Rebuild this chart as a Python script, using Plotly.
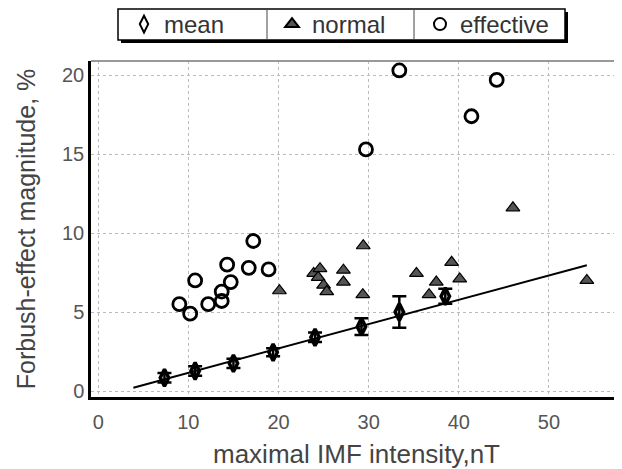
import plotly.graph_objects as go

# ---- data ----
mean_x = [7.35, 10.75, 15.0, 19.4, 24.05, 29.2, 33.4, 38.5]
mean_y = [0.84, 1.27, 1.75, 2.45, 3.4, 4.07, 5.0, 6.0]
mean_err = [0.3, 0.3, 0.3, 0.25, 0.3, 0.53, 1.0, 0.48]

normal_x = [20.1, 23.9, 24.6, 24.4, 25.0, 25.35, 27.2, 27.2, 29.4, 29.35,
            35.3, 37.5, 36.7, 39.2, 40.1, 46.0, 54.2]
normal_y = [6.35, 7.45, 7.75, 7.2, 6.7, 6.3, 7.65, 6.9, 9.2, 6.1,
            7.45, 6.9, 6.1, 8.15, 7.1, 11.6, 7.0]

eff_x = [9.0, 10.2, 10.75, 12.2, 13.7, 13.7, 14.7, 14.3, 16.7, 17.2, 18.9,
         29.7, 33.4, 41.4, 44.2]
eff_y = [5.5, 4.9, 7.0, 5.5, 5.7, 6.3, 6.9, 8.0, 7.8, 9.5, 7.7,
         15.3, 20.3, 17.4, 19.7]

fit_x = [3.9, 54.2]
fit_y = [0.21, 7.97]

x_ticks = [0, 10, 20, 30, 40, 50]
y_ticks = [0, 5, 10, 15, 20]

# ---- layout geometry (pixels) ----
# the page body has an 8px margin, so the figure fills the remaining area
OFF = 8
W, H = 622 - OFF, 469 - OFF
ML, MR, MT, MB = 91 - OFF, 0, 61 - OFF, 72
PW, PH = W - ML - MR, H - MT - MB


def px(xp):
    """reference-screen x pixel -> paper fraction"""
    return (xp - OFF - ML) / PW


def py(yp):
    """reference-screen y pixel -> paper fraction"""
    return (H - MB - (yp - OFF)) / PH


fig = go.Figure()

fig.add_trace(go.Scatter(
    x=fit_x, y=fit_y, mode="lines", showlegend=False,
    line=dict(color="black", width=2)))

fig.add_trace(go.Scatter(
    x=mean_x, y=mean_y, mode="markers", name="mean",
    marker=dict(symbol="diamond-tall-open", size=12, color="black",
                line=dict(color="black", width=3.5)),
    error_y=dict(type="data", array=mean_err, color="black",
                 thickness=2.5, width=7)))

fig.add_trace(go.Scatter(
    x=normal_x, y=normal_y, mode="markers", name="normal",
    marker=dict(symbol="triangle-up", size=12, color="#555555",
                line=dict(color="black", width=1.2))))

fig.add_trace(go.Scatter(
    x=eff_x, y=eff_y, mode="markers", name="effective",
    marker=dict(symbol="circle-open", size=13, color="black",
                line=dict(color="black", width=2.8))))

font = "Liberation Sans, Arial, sans-serif"

# legend box with shadow and dividers
shapes = [
    dict(type="rect", xref="paper", yref="paper",
         x0=px(121), x1=px(568), y0=py(43), y1=py(12),
         fillcolor="black", line=dict(width=0), layer="above"),
    dict(type="rect", xref="paper", yref="paper",
         x0=px(118), x1=px(565), y0=py(40), y1=py(9),
         fillcolor="white", line=dict(color="black", width=1.5), layer="above"),
    dict(type="line", xref="paper", yref="paper",
         x0=px(267), x1=px(267), y0=py(40), y1=py(9),
         line=dict(color="#444", width=1), layer="above"),
    dict(type="line", xref="paper", yref="paper",
         x0=px(414), x1=px(414), y0=py(40), y1=py(9),
         line=dict(color="#444", width=1), layer="above"),
    # top frame line
    dict(type="line", xref="paper", yref="paper",
         x0=0, x1=1, y0=1, y1=1, line=dict(color="#999", width=2)),
]

fig.update_layout(
    width=W, height=H,
    margin=dict(l=ML, r=MR, t=MT, b=MB, autoexpand=False),
    paper_bgcolor="white", plot_bgcolor="white",
    font=dict(family=font, color="#444"),
    shapes=shapes,
    showlegend=True,
    legend=dict(orientation="h", x=px(124), y=py(2), xanchor="left",
                yanchor="top", bgcolor="rgba(0,0,0,0)",
                entrywidth=103, entrywidthmode="pixels",
                font=dict(size=24, color="#333", family=font),
                itemsizing="constant", tracegroupgap=0),
    xaxis=dict(range=[-0.8, 58.1], tickvals=x_ticks,
               ticktext=[str(v) for v in x_ticks],
               showgrid=True, gridcolor="#bbbbbb", griddash="dot", gridwidth=1,
               zeroline=False, showline=True, linecolor="black", linewidth=2.5,
               ticks="", ticklabelstandoff=5,
               tickfont=dict(size=20, color="#555"),
               title=dict(text="maximal IMF intensity,nT",
                          font=dict(size=26, color="#444"), standoff=23)),
    yaxis=dict(range=[-0.38, 20.9], tickvals=y_ticks,
               ticktext=[str(v) for v in y_ticks],
               showgrid=True, gridcolor="#bbbbbb", griddash="dot", gridwidth=1,
               zeroline=False, showline=True, linecolor="black", linewidth=2.5,
               ticks="", tickfont=dict(size=20, color="#555"),
               title=dict(text="Forbush-effect magnitude, %",
                          font=dict(size=25, color="#444"), standoff=20)),
)

fig.write_html("out.html")
